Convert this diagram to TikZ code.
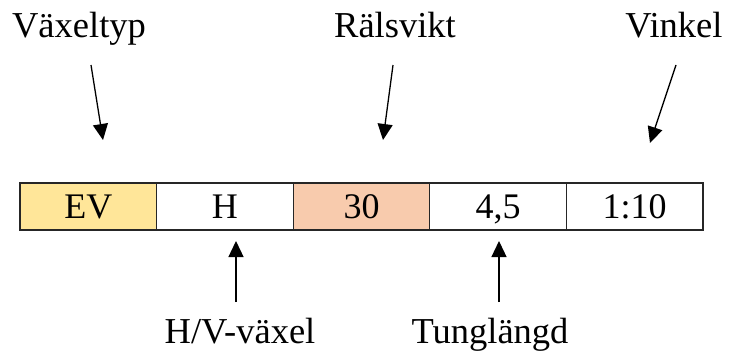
\documentclass[tikz,border=0pt]{standalone}
\usepackage{fontspec}
\setmainfont{Liberation Serif}
\usetikzlibrary{arrows.meta}
\definecolor{evfill}{HTML}{FFE699}
\definecolor{rsfill}{HTML}{F8CBAD}
\begin{document}
\begin{tikzpicture}[x=1pt,y=-1pt,
  lbl/.style={font=\fontsize{36.5}{40}\selectfont, inner sep=0pt, anchor=base},
  cell/.style={draw=black!85, line width=1.3pt, minimum width=136.6pt, minimum height=47pt,
    inner sep=0pt, text height=23pt, text depth=0pt, font=\fontsize{36}{40}\selectfont},
  pointer/.style={line width=1.3pt, -{Triangle[length=16pt,width=15pt]}}]
\useasboundingbox (0,0) rectangle (730,356);
% cells
\node[cell, fill=evfill] (c1) at (88.3,206.5) {EV};
\node[cell] (c2) at (224.9,206.5) {H};
\node[cell, fill=rsfill] (c3) at (361.5,206.5) {30};
\node[cell] (c4) at (498.1,206.5) {4,5};
\node[cell] (c5) at (634.7,206.5) {1:10};
% labels
\node[lbl] (l1) at (79,37) {Växeltyp};
\node[lbl] (l2) at (395,37) {Rälsvikt};
\node[lbl] (l3) at (674,37) {Vinkel};
\node[lbl] (l4) at (240,343) {H/V-växel};
\node[lbl] (l5) at (490,343) {Tunglängd};
% arrow ends
\coordinate (a1s) at (91,65);  \coordinate (a1e) at (103,140);
\coordinate (a2s) at (393,65); \coordinate (a2e) at (383,140);
\coordinate (a3s) at (676,65); \coordinate (a3e) at (650,143);
\coordinate (a4s) at (236,302); \coordinate (a4e) at (236,241);
\coordinate (a5s) at (499,302); \coordinate (a5e) at (499,241);
\draw[pointer] (a1s) -- (a1e);
\draw[pointer] (a2s) -- (a2e);
\draw[pointer] (a3s) -- (a3e);
\draw[pointer] (a4s) -- (a4e);
\draw[pointer] (a5s) -- (a5e);
\end{tikzpicture}
\end{document}
